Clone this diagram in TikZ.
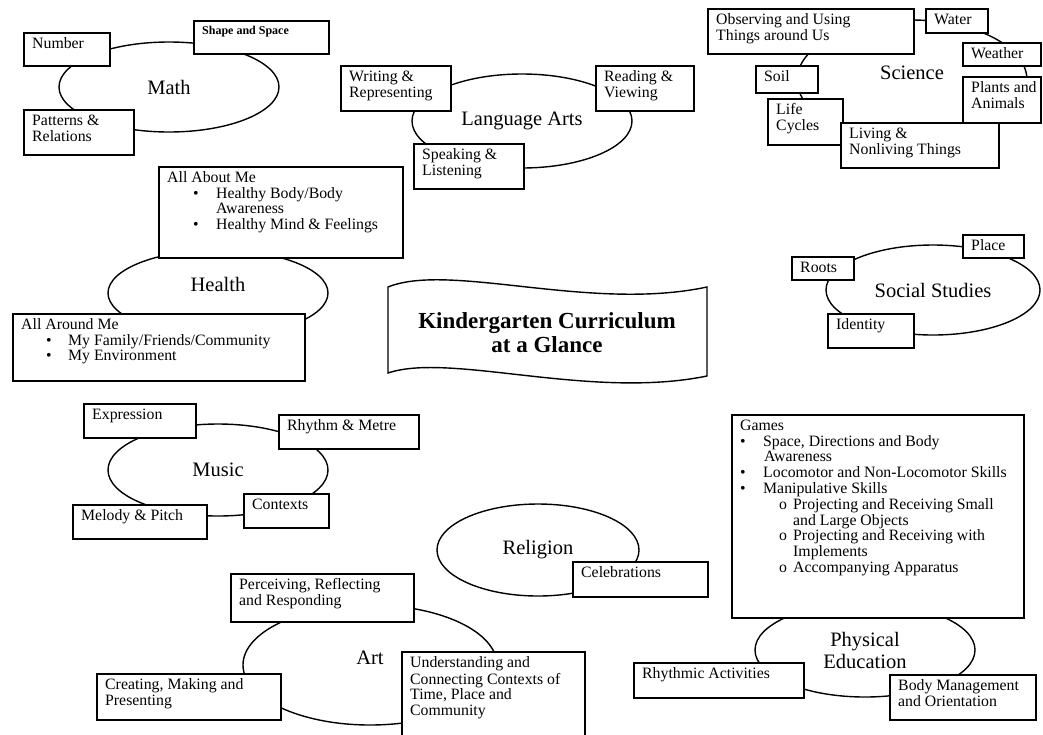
\documentclass[tikz,border=0pt]{standalone}
\usepackage{fontspec}
\setmainfont{Liberation Serif}
\usetikzlibrary{shapes.geometric}

\newcommand\boxfont{\fontsize{15.8}{15.8}\selectfont}
\newcommand\topicfont{\fontsize{20.5}{22}\selectfont}
\newcommand\titlefont{\fontsize{23}{24}\selectfont\bfseries}
\newcommand\smallboldfont{\fontsize{12}{13}\selectfont\bfseries}

\tikzset{
  topic/.style={draw, ellipse, line width=1.4pt, inner sep=0pt, font=\topicfont, align=center},
  strand/.style={draw, fill=white, line width=1.8pt, anchor=north west, inner sep=0pt},
  strandtext/.style={anchor=north west, inner xsep=9pt, inner ysep=5pt, align=left, font=\boxfont},
}

\begin{document}
\begin{tikzpicture}[x=1pt, y=-1pt]
\useasboundingbox (0,0) rectangle (1043,734);

% Math
\node[topic, minimum width=220, minimum height=90] (math) at (169,87) {Math};
\node[strand, minimum width=86, minimum height=33] (number) at (23,32) {};
\node[strandtext] (number-t) at (number.north west) {\strut Number};
\node[strand, minimum width=135, minimum height=33] (shape) at (193,20) {};
\node[strandtext, font=\smallboldfont] (shape-t) at (shape.north west) {\strut Shape and Space};
\node[strand, minimum width=110, minimum height=45] (patterns) at (23,109) {};
\node[strandtext] (patterns-t) at (patterns.north west) {\strut Patterns \&\\Relations};

% Language Arts
\node[topic, minimum width=220, minimum height=94] (langarts) at (522,121) {Language Arts};
\node[strand, minimum width=110, minimum height=45] (writing) at (340,65) {};
\node[strandtext] (writing-t) at (writing.north west) {\strut Writing \&\\Representing};
\node[strand, minimum width=98, minimum height=45] (reading) at (595,65) {};
\node[strandtext] (reading-t) at (reading.north west) {\strut Reading \&\\Viewing};
\node[strand, minimum width=110, minimum height=45] (speaking) at (413,143) {};
\node[strandtext] (speaking-t) at (speaking.north west) {\strut Speaking \&\\Listening};

% Science
\node[topic, minimum width=230, minimum height=120, text depth=14pt] (science) at (912,80) {Science};
\node[strand, minimum width=206, minimum height=45] (observing) at (707,8) {};
\node[strandtext] (observing-t) at (observing.north west) {\strut Observing and Using\\Things around Us};
\node[strand, minimum width=62, minimum height=24] (water) at (925,8) {};
\node[strandtext] (water-t) at (water.north west) {\strut Water};
\node[strand, minimum width=78, minimum height=23] (weather) at (962,42) {};
\node[strandtext] (weather-t) at (weather.north west) {\strut Weather};
\node[strand, minimum width=78, minimum height=46] (plants) at (962,76) {};
\node[strandtext] (plants-t) at (plants.north west) {\strut Plants and\\Animals};
\node[strand, minimum width=62, minimum height=27] (soil) at (755,65) {};
\node[strandtext] (soil-t) at (soil.north west) {\strut Soil};
\node[strand, minimum width=75, minimum height=46] (lifecycles) at (767,98) {};
\node[strandtext] (lifecycles-t) at (lifecycles.north west) {\strut Life\\Cycles};
\node[strand, minimum width=158, minimum height=45] (living) at (840,122) {};
\node[strandtext] (living-t) at (living.north west) {\strut Living \&\\Nonliving Things};

% Health
\node[topic, minimum width=220, minimum height=86, text depth=18pt] (health) at (218,293) {Health};
\node[strand, minimum width=244, minimum height=91] (aboutme) at (158,166) {};
\node[strandtext] (aboutme-t) at (aboutme.north west) {\strut All About Me\\
  \hspace*{26pt}\makebox[23pt][l]{\textbullet}Healthy Body/Body\\
  \hspace*{49pt}Awareness\\
  \hspace*{26pt}\makebox[23pt][l]{\textbullet}Healthy Mind \& Feelings};
\node[strand, minimum width=292, minimum height=67] (aroundme) at (12,313) {};
\node[strandtext] (aroundme-t) at (aroundme.north west) {\strut All Around Me\\
  \hspace*{25pt}\makebox[22pt][l]{\textbullet}My Family/Friends/Community\\
  \hspace*{25pt}\makebox[22pt][l]{\textbullet}My Environment};

% title banner
\draw[line width=1.4pt, fill=white] (388,287) .. controls (450,262) and (590,312) .. (707,287)
  -- (707,376) .. controls (590,400) and (450,352) .. (388,373) -- cycle;
\node[font=\titlefont, align=center] (title) at (547,333) {Kindergarten Curriculum\\at a Glance};

% Social Studies
\node[topic, minimum width=214, minimum height=90] (social) at (933,290) {Social Studies};
\node[strand, minimum width=62, minimum height=23] (roots) at (791,256) {};
\node[strandtext] (roots-t) at (roots.north west) {\strut Roots};
\node[strand, minimum width=61, minimum height=23] (place) at (962,234) {};
\node[strandtext] (place-t) at (place.north west) {\strut Place};
\node[strand, minimum width=86, minimum height=34] (identity) at (827,313) {};
\node[strandtext] (identity-t) at (identity.north west) {\strut Identity};

% Music
\node[topic, minimum width=220, minimum height=92] (music) at (218,470) {Music};
\node[strand, minimum width=112, minimum height=34] (expression) at (83,403) {};
\node[strandtext] (expression-t) at (expression.north west) {\strut Expression};
\node[strand, minimum width=140, minimum height=34] (rhythm) at (278,414) {};
\node[strandtext] (rhythm-t) at (rhythm.north west) {\strut Rhythm \& Metre};
\node[strand, minimum width=85, minimum height=34] (contexts) at (243,493) {};
\node[strandtext] (contexts-t) at (contexts.north west) {\strut Contexts};
\node[strand, minimum width=134, minimum height=34] (melody) at (72,504) {};
\node[strandtext] (melody-t) at (melody.north west) {\strut Melody \& Pitch};

% Religion
\node[topic, minimum width=202, minimum height=92] (religion) at (538,550) {Religion};
\node[strand, minimum width=135, minimum height=35] (celebrations) at (572,561) {};
\node[strandtext] (celebrations-t) at (celebrations.north west) {\strut Celebrations};

% Art
\node[topic, minimum width=254, minimum height=120, text depth=14pt] (art) at (370,665) {Art};
\node[strand, minimum width=183, minimum height=48] (perceiving) at (230,573) {};
\node[strandtext] (perceiving-t) at (perceiving.north west) {\strut Perceiving, Reflecting\\and Responding};
\node[strand, minimum width=184, minimum height=46] (creating) at (96,673) {};
\node[strandtext] (creating-t) at (creating.north west) {\strut Creating, Making and\\Presenting};
\node[strand, minimum width=183, minimum height=94] (understanding) at (401,651) {};
\node[strandtext] (understanding-t) at (understanding.north west) {\strut Understanding and\\Connecting Contexts of\\Time, Place and\\Community};

% Physical Education
\node[topic, minimum width=220, minimum height=94] (pe) at (865,650) {Physical\\Education};
\node[strand, minimum width=292, minimum height=203] (games) at (731,414) {};
\node[strandtext] (games-t) at (games.north west) {\strut Games\\
  \makebox[23pt][l]{\textbullet}Space, Directions and Body\\
  \hspace*{24pt}Awareness\\
  \makebox[23pt][l]{\textbullet}Locomotor and Non-Locomotor Skills\\
  \makebox[23pt][l]{\textbullet}Manipulative Skills\\
  \hspace*{39pt}\makebox[14pt][l]{o}Projecting and Receiving Small\\
  \hspace*{53pt}and Large Objects\\
  \hspace*{39pt}\makebox[14pt][l]{o}Projecting and Receiving with\\
  \hspace*{53pt}Implements\\
  \hspace*{39pt}\makebox[14pt][l]{o}Accompanying Apparatus};
\node[strand, minimum width=170, minimum height=35] (rhythmic) at (633,662) {};
\node[strandtext] (rhythmic-t) at (rhythmic.north west) {\strut Rhythmic Activities};
\node[strand, minimum width=146, minimum height=45] (bodymgmt) at (889,674) {};
\node[strandtext] (bodymgmt-t) at (bodymgmt.north west) {\strut Body Management\\and Orientation};
\end{tikzpicture}
\end{document}
